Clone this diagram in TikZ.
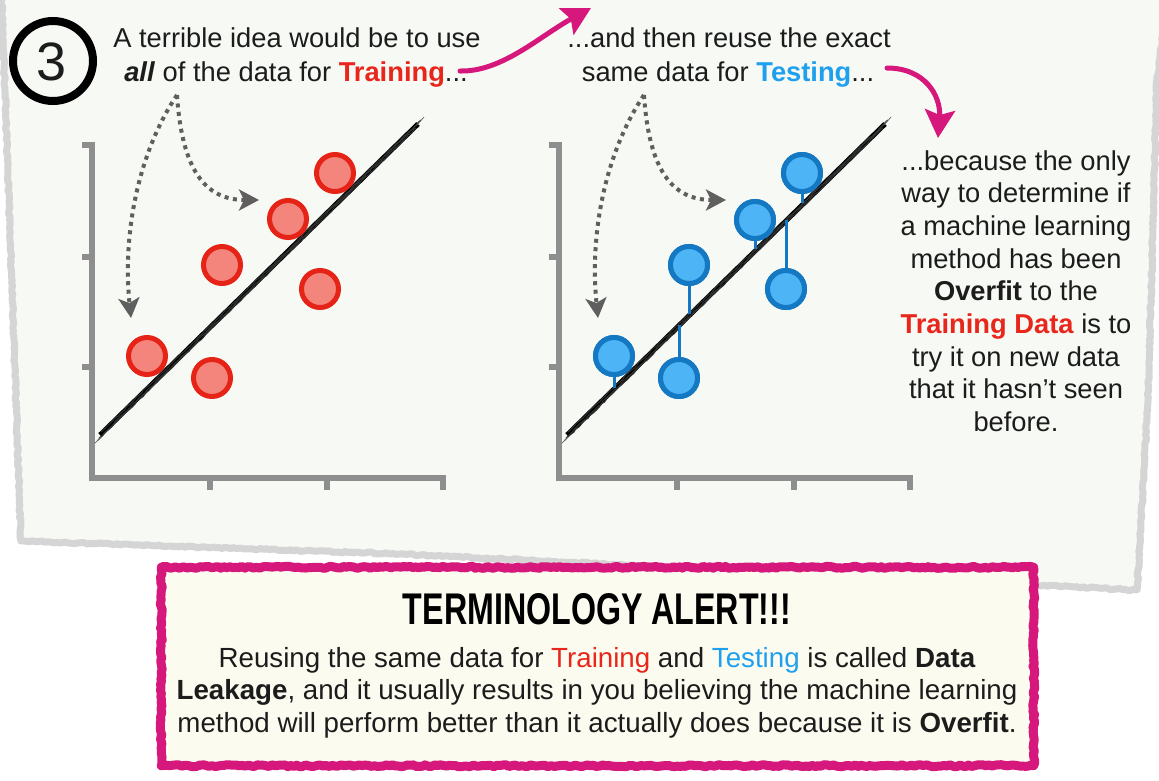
\documentclass[tikz,border=0pt]{standalone}
\usepackage{fontspec}
\setmainfont{Liberation Sans}
\usetikzlibrary{arrows.meta,decorations.pathmorphing}
\definecolor{paper}{HTML}{F7F9F4}
\definecolor{edgegray}{HTML}{D5D5D5}
\definecolor{axisgray}{HTML}{8E8E8E}
\definecolor{dotgray}{HTML}{5F5F5F}
\definecolor{trainred}{HTML}{E8261C}
\definecolor{redfill}{HTML}{F4857D}
\definecolor{redline}{HTML}{E52417}
\definecolor{testblue}{HTML}{1FA0EE}
\definecolor{bluefill}{HTML}{4DB5F6}
\definecolor{blueline}{HTML}{1478C2}
\definecolor{brushmag}{HTML}{D6177C}
\definecolor{boxfill}{HTML}{FCFBF0}
\definecolor{inktext}{HTML}{1C1C1C}
\tikzset{
  txt/.style={inner sep=0pt, text=inktext, font=\fontsize{27.3}{33}\selectfont},
  boxtxt/.style={inner sep=0pt, text=inktext, font=\fontsize{27.7}{33}\selectfont},
  axisline/.style={draw=axisgray, line width=6pt, line cap=butt, line join=miter},
  dotarrow/.style={draw=dotgray, line width=4pt, dash pattern=on 4pt off 4.5pt,
    -{Stealth[length=20pt,width=21pt,inset=5pt]}},
  brush/.style={draw=brushmag, line width=5pt, line cap=round,
    -{Stealth[length=28pt,width=30pt,inset=5pt]}},
  sketch/.style={black!80, line width=1pt, decorate, decoration={random steps, segment length=4pt, amplitude=0.7pt}},
  redpt/.style={circle, inner sep=0pt, minimum size=37pt, draw=redline, line width=5pt, fill=redfill},
  bluept/.style={circle, inner sep=0pt, minimum size=37pt, draw=blueline, line width=5pt, fill=bluefill},
  resid/.style={draw=blueline, line width=3pt},
  plotframe/.pic={
    \draw[axisline] (82,145) -- (92,145) -- (92,478) -- (443,478) -- (443,490);
    \draw[axisline] (82,257) -- (92,257);
    \draw[axisline] (82,367) -- (92,367);
    \draw[axisline] (210,478) -- (210,490);
    \draw[axisline] (327,478) -- (327,490);
    % sketchy regression line
    \draw[black, line width=5pt] (100,435) -- (418,124);
    \draw[sketch] (97.5,440.5) -- (416,128);
    \draw[sketch] (101,432) -- (421,120);
    \draw[sketch] (99,438) -- (419,122.5);
    \draw[black!60, line width=0.7pt] (95,443) -- (101,437);
    \draw[black!60, line width=0.7pt] (417,125) -- (424,117);
    % dotted arrows
    \coordinate (-s) at (177,95);
    \draw[dotarrow] (-s) .. controls (140,150) and (122,230) .. (131,318);
    \draw[dotarrow] (-s) .. controls (182,170) and (205,200) .. (259,200);
  }
}
\begin{document}
\begin{tikzpicture}[x=1pt,y=-1pt]
\useasboundingbox (0,0) rectangle (1159,780);
\fill[white] (0,0) rectangle (1159,780);
% paper sheet
\fill[paper] (1,-20) -- (21,541) -- (400,554) -- (1137,590) -- (1148,400) -- (1157,80) -- (1170,-20) -- cycle;
\draw[edgegray, line width=7pt, line join=round, decorate, decoration={random steps, segment length=3pt, amplitude=0.8pt}]
  (1,-20) -- (21,541) -- (400,554) -- (1137,590) -- (1148,400) -- (1157,80) -- (1170,-20);

% step number
\node[circle, draw=black, line width=8pt, minimum size=80pt, inner sep=0pt] (num) at (53,61) {};
\node[inner sep=0pt, text=inktext, font=\fontsize{54}{54}\selectfont] (numtxt) at (52,62) {3};

% plots
\pic (L) at (0,0) {plotframe};
\pic (R) at (467,0) {plotframe};

% residual coordinates on the right regression line
\coordinate (e1) at (802,203);
\coordinate (e2) at (755,249);
\coordinate (e3) at (689,314);
\coordinate (e4) at (786,220);
\coordinate (e5) at (614,388);
\coordinate (e6) at (679,325);

% blue points (testing)
\node[bluept] (b1) at (802,173) {};
\node[bluept] (b2) at (755,220) {};
\node[bluept] (b3) at (689,265) {};
\node[bluept] (b4) at (786,289) {};
\node[bluept] (b5) at (614,356) {};
\node[bluept] (b6) at (679,378) {};
\draw[resid] (b3) -- (e3);
\draw[resid] (b4) -- (e4);
\draw[resid] (b5) -- (e5);
\draw[resid] (b6) -- (e6);
\draw[resid] (b1) -- (e1);
\draw[resid] (b2) -- (e2);
% circles again on top of the residual lines
\node[bluept] at (b1) {};
\node[bluept] at (b2) {};
\node[bluept] at (b3) {};
\node[bluept] at (b4) {};
\node[bluept] at (b5) {};
\node[bluept] at (b6) {};

% red points (training)
\node[redpt] (r1) at (335,173) {};
\node[redpt] (r2) at (288,219) {};
\node[redpt] (r3) at (222,265) {};
\node[redpt] (r4) at (320,289) {};
\node[redpt] (r5) at (147,356) {};
\node[redpt] (r6) at (212,378) {};

% texts
\node[txt, anchor=base] (t1a) at (297,47) {A terrible idea would be to use};
\node[txt, anchor=base] (t1b) at (296,81) {\textbf{\textit{all}} of the data for \textcolor{trainred}{\textbf{Training}}...};
\node[txt, anchor=base] (t2a) at (729,47) {...and then reuse the exact};
\node[txt, anchor=base] (t2b) at (728,81) {same data for \textcolor{testblue}{\textbf{Testing}}...};

\node[txt, anchor=base] (c1) at (1016,170) {...because the only};
\node[txt, anchor=base] (c2) at (1016,202.7) {way to determine if};
\node[txt, anchor=base] (c3) at (1016,235.4) {a machine learning};
\node[txt, anchor=base] (c4) at (1016,268.1) {method has been};
\node[txt, anchor=base] (c5) at (1016,300.8) {\textbf{Overfit} to the};
\node[txt, anchor=base] (c6) at (1016,333.5) {\textcolor{trainred}{\textbf{Training Data}} is to};
\node[txt, anchor=base] (c7) at (1016,366.2) {try it on new data};
\node[txt, anchor=base] (c8) at (1016,398.9) {that it hasn’t seen};
\node[txt, anchor=base] (c9) at (1016,431.6) {before.};

% magenta brush arrows
\coordinate (a1s) at (460,71);
\coordinate (a1e) at (591,8);
\draw[brush] (a1s) .. controls (502,72) and (540,36) .. (a1e);
\coordinate (a2s) at (887,68);
\coordinate (a2e) at (938,138);
\draw[brush] (a2s) .. controls (925,68) and (941,96) .. (a2e);

% terminology box
\node[fill=boxfill, minimum width=872pt, minimum height=198pt, inner sep=0pt] (box) at (597.5,666.5) {};
\draw[brushmag, line width=9pt, line join=round, decorate, decoration={random steps, segment length=3pt, amplitude=1pt}]
  (box.north west) rectangle (box.south east);
\node[inner sep=0pt, anchor=base, text=black] (title) at (597,624)
  {\resizebox{388pt}{31pt}{\bfseries TERMINOLOGY ALERT!!!}};
\node[boxtxt, anchor=base] (p1) at (597,667) {Reusing the same data for \textcolor{trainred}{Training} and \textcolor{testblue}{Testing} is called \textbf{Data}};
\node[boxtxt, anchor=base] (p2) at (597,699) {\textbf{Leakage}, and it usually results in you believing the machine learning};
\node[boxtxt, anchor=base] (p3) at (597,732) {method will perform better than it actually does because it is \textbf{Overfit}.};
\end{tikzpicture}
\end{document}
